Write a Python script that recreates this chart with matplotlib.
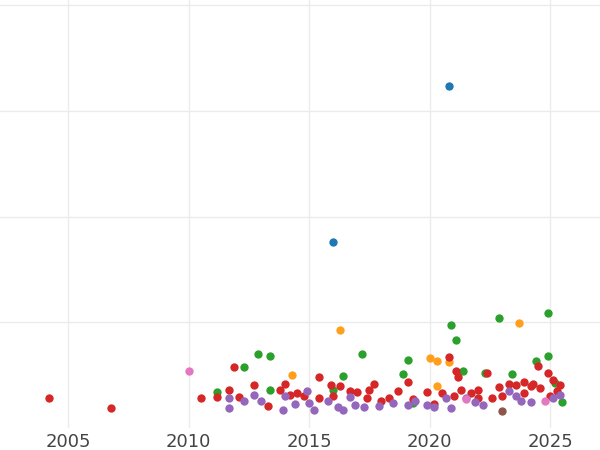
import matplotlib
matplotlib.use("Agg")
import matplotlib.pyplot as plt

# (year, value) per series
blue_x = [2020.8, 2016.0]
blue_y = [3.24, 1.76]

orange_x = [2016.3, 2023.7, 2020.0, 2020.3, 2014.3, 2020.3, 2020.8]
orange_y = [0.93, 0.99, 0.66, 0.63, 0.50, 0.40, 0.62]

green_x = [2020.9, 2021.1, 2022.9, 2024.9, 2017.2, 2013.4, 2012.9, 2012.3, 2011.2, 2019.1, 2021.4,
           2016.4, 2018.9, 2024.4, 2024.9, 2023.4, 2022.3, 2025.2, 2025.5, 2013.4, 2019.3, 2016.0]
green_y = [0.97, 0.83, 1.04, 1.09, 0.70, 0.68, 0.70, 0.58, 0.34, 0.64, 0.54,
           0.49, 0.51, 0.63, 0.68, 0.51, 0.52, 0.43, 0.25, 0.36, 0.24, 0.36]

red_x = [2004.2, 2006.8, 2010.5, 2011.2, 2011.7, 2011.9, 2012.1, 2012.7, 2013.3, 2013.8, 2014.0,
         2014.2, 2014.5, 2015.4, 2015.9, 2016.3, 2016.7, 2017.0, 2017.5, 2017.7, 2018.0, 2018.7,
         2019.1, 2019.9, 2020.2, 2020.8, 2021.1, 2021.2, 2021.7, 2022.0, 2022.4, 2022.9, 2023.3,
         2023.6, 2023.9, 2024.3, 2024.5, 2024.9, 2025.1, 2025.4,
         2020.5, 2021.0, 2021.3, 2022.6, 2023.0, 2023.9, 2024.6, 2025.0, 2025.3, 2014.8, 2016.0,
         2017.4, 2018.3, 2019.3, 2022.0, 2024.2, 2015.4]
red_y = [0.28, 0.19, 0.28, 0.29, 0.36, 0.58, 0.29, 0.41, 0.21, 0.36, 0.42,
         0.31, 0.33, 0.48, 0.41, 0.40, 0.35, 0.34, 0.36, 0.42, 0.26, 0.35,
         0.44, 0.34, 0.23, 0.67, 0.54, 0.48, 0.33, 0.36, 0.52, 0.39, 0.42,
         0.41, 0.44, 0.42, 0.59, 0.52, 0.45, 0.41,
         0.33, 0.30, 0.36, 0.28, 0.30, 0.33, 0.38, 0.30, 0.35, 0.30, 0.30,
         0.28, 0.28, 0.27, 0.28, 0.40, 0.28]

purple_x = [2011.7, 2011.7, 2012.3, 2012.7, 2013.0, 2013.9, 2014.0, 2014.4, 2014.9, 2015.0, 2015.2,
            2015.8, 2016.2, 2016.4, 2016.7, 2016.9, 2017.3, 2017.9, 2018.5, 2019.1, 2019.4, 2019.9,
            2020.2, 2020.7, 2020.9, 2021.5, 2021.9, 2022.2, 2023.3, 2023.6, 2024.2, 2025.1, 2025.4, 2023.8]
purple_y = [0.28, 0.19, 0.26, 0.31, 0.26, 0.17, 0.30, 0.23, 0.35, 0.24, 0.17,
            0.26, 0.20, 0.17, 0.29, 0.22, 0.20, 0.21, 0.24, 0.22, 0.26, 0.22,
            0.20, 0.28, 0.19, 0.28, 0.25, 0.22, 0.35, 0.30, 0.25, 0.28, 0.31, 0.26]

brown_x = [2023.0]
brown_y = [0.16]

pink_x = [2010.0, 2021.5, 2024.8]
pink_y = [0.54, 0.27, 0.26]

series = [
    (blue_x, blue_y, "#1f77b4"),
    (orange_x, orange_y, "#ff9f1c"),
    (green_x, green_y, "#2ca02c"),
    (red_x, red_y, "#d62728"),
    (purple_x, purple_y, "#9467bd"),
    (brown_x, brown_y, "#8c564b"),
    (pink_x, pink_y, "#e377c2"),
]

fig = plt.figure(figsize=(6, 4.5), dpi=100)
ax = fig.add_axes([0, 22 / 450, 1, 428 / 450])

for xs, ys, color in series:
    ax.scatter(xs, ys, s=36, color=color, linewidths=0, zorder=3)

ax.set_xlim(2002.18, 2027.07)
ax.set_ylim(0, 4.05)
ax.set_xticks([2005, 2010, 2015, 2020, 2025])
ax.set_yticks([1, 2, 3, 4])
ax.set_yticklabels([])
ax.grid(True, color="#ebebeb", linewidth=1)
ax.tick_params(length=0, labelsize=13, labelcolor="#444444", axis="x")
ax.tick_params(length=0, axis="y")
for s in ax.spines.values():
    s.set_visible(False)

fig.savefig("out.png", dpi=100)
